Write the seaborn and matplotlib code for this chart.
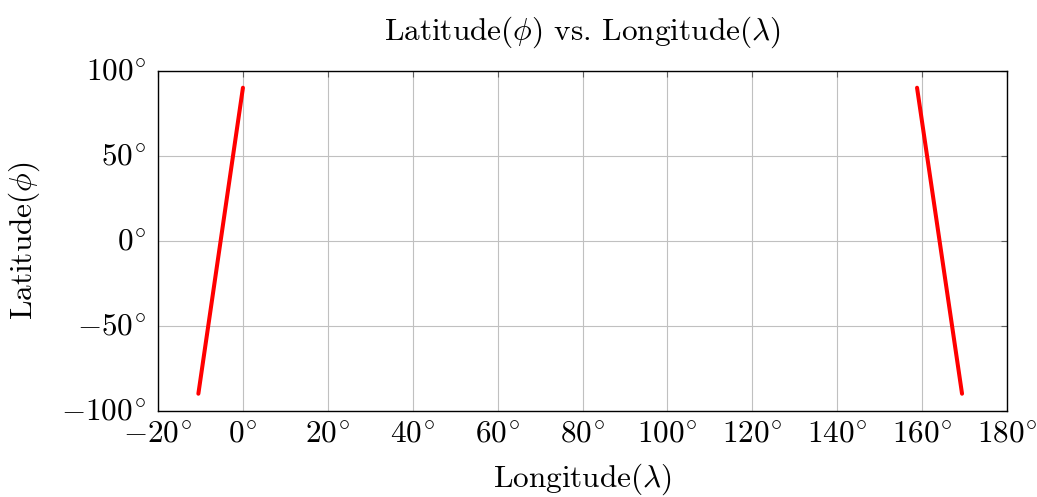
import matplotlib
matplotlib.use("Agg")
import matplotlib.pyplot as plt
import seaborn as sns
import pandas as pd

# Data
seg1_lon = [-10.5, 0.0]
seg1_lat = [-90, 90]
seg2_lon = [158.8, 169.4]
seg2_lat = [90, -90]
x_ticks = [-20, 0, 20, 40, 60, 80, 100, 120, 140, 160, 180]
y_ticks = [-100, -50, 0, 50, 100]

df = pd.DataFrame({
    "lon": seg1_lon + seg2_lon,
    "lat": seg1_lat + seg2_lat,
    "seg": ["a"] * len(seg1_lon) + ["b"] * len(seg2_lon),
})

sns.set_style("white")
plt.rcParams["font.family"] = ["serif"]
plt.rcParams["font.serif"] = ["cmr10", "DejaVu Serif"]
plt.rcParams["mathtext.fontset"] = "cm"
plt.rcParams["axes.unicode_minus"] = False
plt.rcParams["text.color"] = "black"
plt.rcParams["xtick.labelcolor"] = "black"
plt.rcParams["ytick.labelcolor"] = "black"
plt.rcParams["axes.labelcolor"] = "black"

fig = plt.figure(figsize=(10.37, 4.97), dpi=100)
ax = fig.add_axes([0.1524, 0.1736, 0.8187, 0.6841])

sns.lineplot(data=df, x="lon", y="lat", units="seg", estimator=None, sort=False,
             color="red", linewidth=2.9, ax=ax)

ax.set_xlim(-20, 180)
ax.set_ylim(-100, 100)
ax.set_xticks(x_ticks)
ax.set_yticks(y_ticks)
fs = 22.5
ax.set_xticklabels([rf"${v}^{{\!\circ}}$" for v in x_ticks], fontsize=fs)
ax.set_yticklabels([rf"${v}^{{\!\circ}}$" for v in y_ticks], fontsize=fs)
ax.grid(True, color="#c0c0c0", linewidth=0.8)
ax.set_axisbelow(True)
ax.tick_params(direction="in", length=4, width=0.8, color="#606060",
               top=True, right=True)
ax.tick_params(axis="y", pad=8.5)
ax.tick_params(axis="x", pad=7.5)
for s in ax.spines.values():
    s.set_color("black")
    s.set_linewidth(1.0)
ax.set_xlabel(r"Longitude($\lambda$)", fontsize=fs, labelpad=9)
ax.set_ylabel(r"Latitude($\phi$)", fontsize=fs, labelpad=14)
ax.set_title(r"Latitude($\phi$) vs. Longitude($\lambda$)", fontsize=fs, pad=22)

fig.savefig("out.png", dpi=100)
